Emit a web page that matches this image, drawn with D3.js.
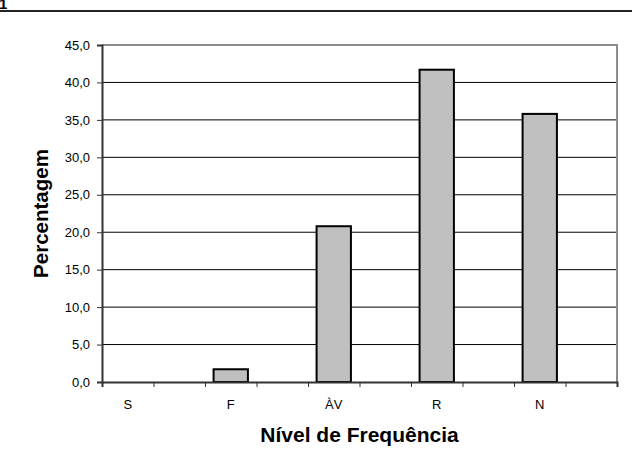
<!DOCTYPE html>
<html>
<head>
<meta charset="utf-8">
<script src="https://cdn.jsdelivr.net/npm/d3@7"></script>
<style>
  body { margin: 0; background: #fff; }
  text { font-family: Arial, "Liberation Sans", sans-serif; fill: #000; }
</style>
</head>
<body>
<script>
// chart data (excel layout: empty rows between the levels)
var categories = ['S', '', 'F', '', 'ÀV', '', 'R', '', 'N', ''];
var values = [0, null, 1.7, null, 20.8, null, 41.7, null, 35.8, null];
var yTicks = [0, 5, 10, 15, 20, 25, 30, 35, 40, 45];
var yTitle = 'Percentagem';
var xTitle = 'Nível de Frequência';

var width = 632, height = 470;
var margin = {top: 45, right: 15, bottom: 88, left: 102};

var svg = d3.select('body').append('svg')
    .attr('width', width)
    .attr('height', height);

// page rule + cut off number above the chart
svg.append('line')
    .attr('x1', 0).attr('x2', width)
    .attr('y1', 11).attr('y2', 11)
    .attr('stroke', '#222').attr('stroke-width', 2);
svg.append('text')
    .attr('x', -1).attr('y', 9)
    .style('font-weight', 'bold').style('font-size', '15px')
    .text('1');

var x = d3.scaleBand()
    .domain(d3.range(categories.length))
    .range([margin.left, width - margin.right]);

var xEdges = d3.scaleLinear()
    .domain([0, categories.length])
    .range([margin.left, width - margin.right]);

var y = d3.scaleLinear()
    .domain([0, 45])
    .range([height - margin.bottom, margin.top]);

// gridlines
svg.append('g')
  .selectAll('line')
  .data(yTicks.filter(function(d) { return d > 0 && d < 45; }))
  .enter()
  .append('line')
    .attr('x1', margin.left).attr('x2', width - margin.right)
    .attr('y1', function(d) { return y(d); })
    .attr('y2', function(d) { return y(d); })
    .attr('stroke', '#000').attr('stroke-width', 1);

// plot frame (top + right)
svg.append('path')
    .attr('d', 'M' + margin.left + ',' + y(45) + 'H' + (width - margin.right) + 'V' + y(0))
    .attr('fill', 'none')
    .attr('stroke', '#8c8c8c').attr('stroke-width', 2);

// bars
var barW = x.bandwidth() / 1.5;
svg.append('g')
  .selectAll('rect')
  .data(values.map(function(v, i) { return {i: i, v: v}; }).filter(function(d) { return d.v; }))
  .enter()
  .append('rect')
    .attr('x', function(d) { return x(d.i) + (x.bandwidth() - barW) / 2; })
    .attr('y', function(d) { return y(d.v); })
    .attr('width', barW)
    .attr('height', function(d) { return y(0) - y(d.v); })
    .attr('fill', '#c0c0c0')
    .attr('stroke', '#000')
    .attr('stroke-width', 2);

// y axis
var yAxis = svg.append('g')
    .attr('transform', 'translate(' + margin.left + ',0)')
    .call(d3.axisLeft(y)
      .tickValues(yTicks)
      .tickSize(5)
      .tickPadding(7)
      .tickFormat(function(d) { return d.toFixed(1).replace('.', ','); }));
yAxis.select('.domain').attr('stroke', '#333').attr('stroke-width', 2);
yAxis.selectAll('.tick line').attr('stroke', '#333');
yAxis.selectAll('text').style('font-size', '13px').attr('fill', '#000');

// x axis ticks on the band edges
var xAxis = svg.append('g')
    .attr('transform', 'translate(0,' + y(0) + ')')
    .call(d3.axisBottom(xEdges)
      .ticks(categories.length)
      .tickSize(5)
      .tickFormat(''));
xAxis.select('.domain').attr('stroke', '#333').attr('stroke-width', 2);
xAxis.selectAll('.tick line').attr('stroke', '#333');

// category labels
svg.append('g')
  .selectAll('text')
  .data(categories)
  .enter()
  .append('text')
    .attr('x', function(d, i) { return x(i) + x.bandwidth() / 2; })
    .attr('y', 409)
    .attr('text-anchor', 'middle')
    .style('font-size', '13px')
    .text(function(d) { return d; });

// axis titles
svg.append('text')
    .attr('transform', 'translate(48,' + ((y(0) + y(45)) / 2) + ') rotate(-90)')
    .attr('text-anchor', 'middle')
    .style('font-weight', 'bold').style('font-size', '20.5px')
    .text(yTitle);

svg.append('text')
    .attr('x', (margin.left + width - margin.right) / 2)
    .attr('y', 442)
    .attr('text-anchor', 'middle')
    .style('font-weight', 'bold').style('font-size', '21px')
    .text(xTitle);
</script>
</body>
</html>
